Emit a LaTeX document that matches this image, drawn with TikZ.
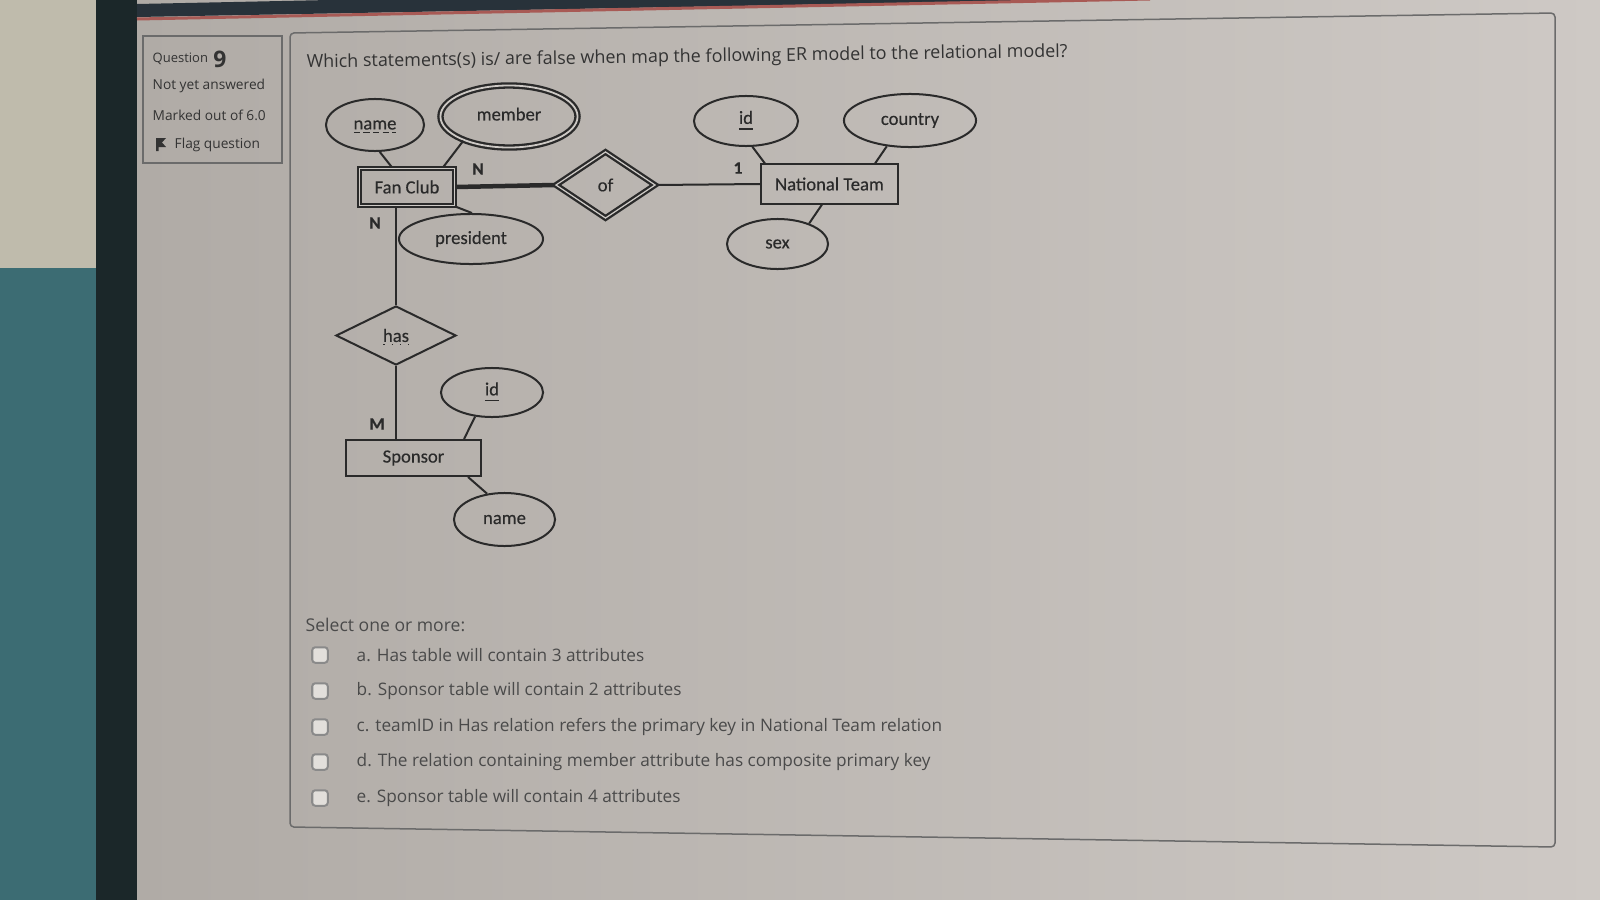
\documentclass[tikz,border=0pt]{standalone}
\usepackage{fontspec}
\setmainfont{Open Sans}
\newfontfamily\erfont{Carlito}[FakeBold=0.35]
\usetikzlibrary{shapes.geometric}

\definecolor{pageL}{HTML}{B0ABA6}
\definecolor{pageM}{HTML}{DAD7D3}
\definecolor{pageR}{HTML}{CEC9C5}
\definecolor{teal}{HTML}{3C6C73}
\definecolor{winlight}{HTML}{BFBBAC}
\definecolor{bezel}{HTML}{1B2729}
\definecolor{topbar}{HTML}{28323A}
\definecolor{topred}{HTML}{A85A55}
\definecolor{frameline}{HTML}{6B6B6B}
\definecolor{erline}{HTML}{2A2A2A}
\definecolor{ertext}{HTML}{2A2A2A}
\definecolor{gapfill}{HTML}{CDC9C5}
\definecolor{qtext}{HTML}{333333}
\definecolor{opttext}{HTML}{4A4A4A}
\definecolor{boxline}{HTML}{8A8A8A}
\definecolor{boxfill}{HTML}{E2DFDB}

\tikzset{
  ertxt/.style={font=\erfont\fontsize{5.3}{6}\selectfont, text=ertext},
  attr/.style={ellipse, draw=erline, line width=0.2mm, inner sep=0pt, ertxt},
  multiattr/.style={attr, double=gapfill, double distance=0.18mm, line width=0.23mm},
  entity/.style={rectangle, draw=erline, line width=0.2mm, inner sep=0pt, ertxt},
  weakentity/.style={entity, double=gapfill, double distance=0.12mm, line width=0.23mm},
  rel/.style={diamond, aspect=1.7, draw=erline, line width=0.2mm, inner sep=0pt, ertxt},
  idrel/.style={rel, double=gapfill, double distance=0.12mm, line width=0.23mm},
  card/.style={font=\erfont\bfseries\fontsize{5}{6}\selectfont, text=ertext, inner sep=0pt},
  conn/.style={draw=erline, line width=0.2mm},
  checkbox/.style={draw=boxline, fill=boxfill, rounded corners=0.3mm, line width=0.2mm,
    minimum size=1.55mm, inner sep=0pt},
  option/.style={anchor=west, inner sep=0pt, text=opttext, font=\fontsize{4.9}{6}\selectfont},
  side/.style={anchor=west, inner sep=0pt, text=qtext, font=\fontsize{3.9}{5}\selectfont}
}

\begin{document}
\begin{tikzpicture}[x=0.01cm, y=-0.01cm]
\useasboundingbox (0,0) rectangle (1600,900);
% photo surroundings
\fill[teal] (0,0) rectangle (96,900);
\fill[winlight] (0,0) rectangle (96,268);
\fill[bezel] (96,0) rectangle (137,900);
\shade[left color=pageL, middle color=pageM, right color=pageR] (137,0) rectangle (1600,900);
\fill[topbar] (137,4) -- (330,0) -- (1060,0) -- (137,17) -- cycle;
\draw[topred, line width=0.3mm] (137,19) -- (1150,-1);

% question info panel
\draw[frameline, line width=0.15mm] (143,36) rectangle (282,163);
\node[side, font=\fontsize{3.7}{5}\selectfont] (qlabel) at (152,59) {Question};
\node[anchor=west, inner sep=0pt, text=qtext, font=\bfseries\fontsize{6.5}{7}\selectfont]
  (qnum) at (qlabel.east) {\,9};
\node[side] (qstate) at (152,86) {Not yet answered};
\node[side] (qmark) at (152,115) {Marked out of 6.0};
\fill[qtext] (156,138) -- (166,138) -- (162,142.5) -- (166,147) -- (158.5,147) -- (158.5,151) -- (156,151) -- cycle;
\node[side] (qflag) at (174,145) {Flag question};

% question content box
\draw[frameline, line width=0.15mm, rounded corners=0.4mm] (290,33) -- (1555,13) -- (1555,847) -- (290,827) -- cycle;
\node[anchor=west, inner sep=0pt, text=qtext, font=\fontsize{5.1}{6}\selectfont, rotate=0.8] (qtitle) at (306,63)
  {Which statements(s) is/ are false when map the following ER model to the relational model?};

% ER model
\node[weakentity, minimum width=0.95cm, minimum height=0.37cm] (fanclub) at (407,187) {Fan Club};
\node[attr, minimum width=0.98cm, minimum height=0.52cm] (name1) at (375,125) {name};
\node[multiattr, minimum width=1.37cm, minimum height=0.62cm] (member) at (509,116.5) {\raisebox{0.5mm}{member}};
\node[attr, minimum width=1.44cm, minimum height=0.50cm] (president) at (471,239) {president};
\node[idrel, minimum width=1.00cm, minimum height=0.67cm] (of) at (605.5,185) {of};
\node[entity, minimum width=1.37cm, minimum height=0.39cm] (nteam) at (829.5,184) {National Team};
\node[attr, minimum width=1.04cm, minimum height=0.50cm] (id1) at (746,121) {\underline{id}};
\node[attr, minimum width=1.32cm, minimum height=0.53cm] (country) at (910,120.5) {country};
\node[attr, minimum width=1.01cm, minimum height=0.50cm] (sex) at (777.5,244) {sex};
\node[rel, minimum width=1.20cm, minimum height=0.59cm] (has) at (396,335.5) {has};
\node[entity, minimum width=1.35cm, minimum height=0.36cm] (sponsor) at (413.5,458) {Sponsor};
\node[attr, minimum width=1.02cm, minimum height=0.49cm] (id2) at (492,392.5) {\underline{id}};
\node[attr, minimum width=1.01cm, minimum height=0.53cm] (name2) at (504.5,519.5) {name};

% partial key and has underlines
\draw[erline, line width=0.12mm, dash pattern=on 0.6mm off 0.35mm]
  ([xshift=-2.1mm, yshift=-0.75mm]name1.center) -- ++(4.2mm,0);
\draw[erline, line width=0.12mm, dotted]
  ([xshift=-1.25mm, yshift=-0.9mm]has.center) -- ++(2.5mm,0);

% connectors
\draw[conn] (name1.280) -- ([xshift=-1.5mm]fanclub.north);
\draw[conn] (member.208) -- ([xshift=3.6mm]fanclub.north);
\draw[conn] (fanclub.south east) -- (president.88);
\draw[draw=erline, line width=0.45mm] (fanclub.east) -- (of.west);
\draw[conn] (of.east) -- (nteam.west);
\draw[conn] (id1.284) -- ([xshift=0.5mm]nteam.north west);
\draw[conn] (country.228) -- ([xshift=-2.4mm]nteam.north east);
\draw[conn] (sex.33) -- ([xshift=-0.75mm]nteam.south);
\draw[conn] (has.north) -- (has.north |- fanclub.south);
\draw[conn] (has.south) -- (has.south |- sponsor.north);
\draw[conn] (id2.235) -- ([xshift=-1.8mm]sponsor.north east);
\draw[conn] (name2.124) -- ([xshift=-1.4mm]sponsor.south east);

% cardinalities
\node[card] (cardfn) at (478,169) {N};
\node[card] (cardnt) at (738,168) {1};
\node[card] (cardfh) at (375,223) {N};
\node[card] (cardsh) at (377,424) {M};

% answer options
\node[anchor=west, inner sep=0pt, text=opttext, font=\fontsize{5}{6}\selectfont] (select) at (305,625) {Select one or more:};
\node[checkbox] (boxa) at (320,655) {};
\node[checkbox] (boxb) at (320,691) {};
\node[checkbox] (boxc) at (320,727) {};
\node[checkbox] (boxd) at (320,762) {};
\node[checkbox] (boxe) at (320,798) {};
\node[option] (opta) at (356,655) {a. Has table will contain 3 attributes};
\node[option] (optb) at (356,691) {b. Sponsor table will contain 2 attributes};
\node[option] (optc) at (356,727) {c. teamID in Has relation refers the primary key in National Team relation};
\node[option] (optd) at (356,762) {d. The relation containing member attribute has composite primary key};
\node[option] (opte) at (356,798) {e. Sponsor table will contain 4 attributes};
\end{tikzpicture}
\end{document}
